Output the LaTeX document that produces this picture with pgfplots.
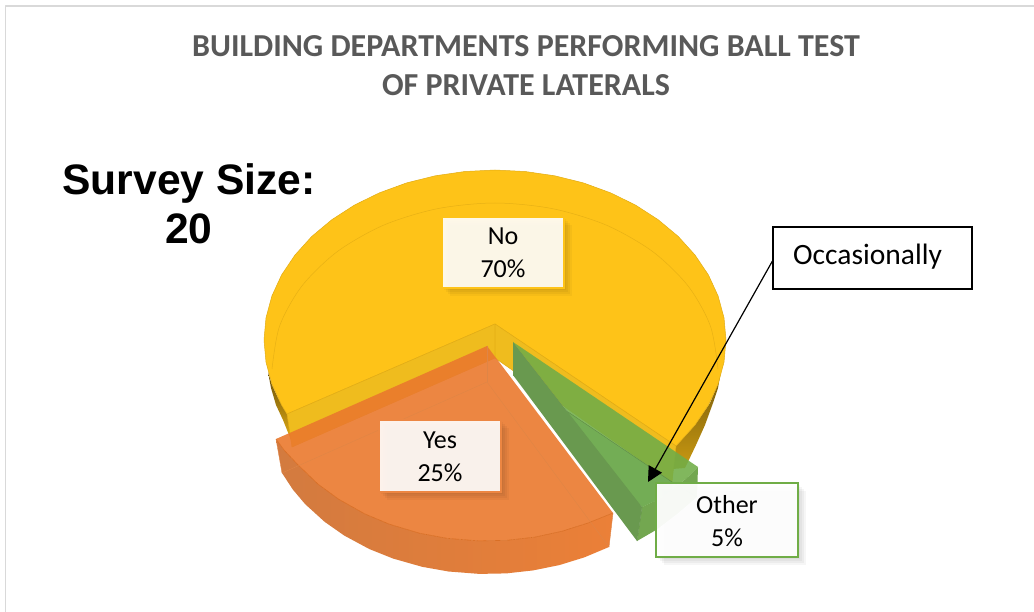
\documentclass[border=0pt]{standalone}
\usepackage{pgfplots}
\pgfplotsset{compat=1.18}
\usepackage{fontspec}
\setmainfont{Carlito}
\newfontfamily\arialfont{Liberation Sans}
\usetikzlibrary{arrows.meta}

\definecolor{noTop}{HTML}{FEC318}
\definecolor{noWall}{HTML}{EFBC1E}
\definecolor{noEdge}{HTML}{E2AC14}
\definecolor{yesFace}{HTML}{EA792D}
\definecolor{yesEdge}{HTML}{D96F25}
\definecolor{otherFace}{HTML}{70AD47}
\definecolor{otherLight}{HTML}{73AD55}
\definecolor{otherWall}{HTML}{69994F}
\definecolor{titleGrey}{HTML}{595959}
\definecolor{frameGrey}{HTML}{D9D9D9}

% Callout box with a soft drop shadow: x0, y0, x1, y1, border, fill opacity, border width
\newcommand{\calloutbox}[7]{%
  \fill[black,opacity=.035,xshift=2pt,yshift=-2pt] (axis cs:#1,#2) rectangle (axis cs:#3,#4);
  \fill[black,opacity=.04,xshift=4pt,yshift=-4pt] (axis cs:#1,#2) rectangle (axis cs:#3,#4);
  \fill[black,opacity=.04,xshift=6pt,yshift=-6pt] (axis cs:#1,#2) rectangle (axis cs:#3,#4);
  \fill[black,opacity=.035,xshift=8pt,yshift=-8pt] (axis cs:#1,#2) rectangle (axis cs:#3,#4);
  \draw[fill=white,fill opacity=#6,draw=#5,line width=#7] (axis cs:#1,#2) rectangle (axis cs:#3,#4);
}
\newcommand{\labeltext}[3]{%
  \node[anchor=base,inner sep=0pt,font=\fontsize{26}{30}\selectfont] at (axis cs:#1,#2) {#3};
}

\begin{document}
\begin{tikzpicture}
\begin{axis}[
  scale only axis, width=1034pt, height=612pt,
  xmin=0, xmax=1034, ymin=0, ymax=612, y dir=reverse,
  hide axis, no markers,
  every axis plot/.append style={line join=round},
]
% full canvas, so the page keeps its size around the hidden axis
\path (axis cs:0,0) rectangle (axis cs:1034,612);

% chart frame
\addplot[frameGrey,line width=1.6pt] coordinates {(5.5,612) (5.5,6) (1034,6)};

% "No" slice: side strips, top face, far rim, cut walls
\addplot[top color=black!55!noEdge,bottom color=noEdge,draw=none] coordinates {
  (268,372) (271,388) (276,405) (283,420) (291,440) (300,440) (287,414) (279,400) (272,385)};
\addplot[top color=black!50!noEdge,bottom color=noEdge!90!black,draw=none] coordinates {
  (722,365) (718,388) (713,403) (705,425) (696,445) (685,468) (660,470) (676,446) (695,425) (710,403) (718,384)};
\addplot[fill=noTop,draw=noEdge,line width=.5pt] coordinates {
  (495,324) (676,446) (686,435) (695,425) (708.4,405.1) (718.1,384) (724,362.2) (726,340) (724,317.8) (718.1,296)
  (708.4,274.9) (695,255) (678.3,236.5) (658.3,219.8) (635.6,205.1) (610.5,192.8) (583.4,182.9) (554.8,175.8)
  (525.1,171.5) (495,170) (464.9,171.5) (435.2,175.8) (406.6,182.9) (379.5,192.8) (354.4,205.1) (331.7,219.8)
  (311.7,236.5) (295,255) (281.6,274.9) (271.9,296) (266,317.8) (264,340) (266,362.2) (271.9,384) (281.6,405.1)
  (287,414) (495,324)};
\addplot[noEdge!80!noTop,line width=.5pt,smooth] coordinates {
  (272,369) (279.6,326) (301.9,286) (337.3,251.6) (383.5,225.2) (437.3,208.7) (495,203)
  (552.7,208.7) (606.5,225.2) (652.7,251.6) (688.1,286) (710.4,326) (718,369)};
\addplot[fill=noWall,draw=noEdge,line width=.5pt] coordinates {(495,324) (495,358) (292,447) (287,414) (495,324)};
\addplot[fill=noWall,draw=noEdge,line width=.5pt] coordinates {(495,324) (495,358) (672,482) (676,446) (495,324)};

% "Other" slice: outer wall, top face with its lighter front part, cut wall
\addplot[fill=otherFace!92!black,fill opacity=.92,draw=none] coordinates {
  (642,507) (658.3,499.4) (672,490) (686,478.7) (698,467) (697,497) (677,514) (656,530) (637,541) (642,507)};
\addplot[fill=otherFace,fill opacity=.88,draw=none] coordinates {
  (513,342) (698,467) (686,478.7) (672,490) (658.3,499.4) (642,507) (513,342)};
\addplot[fill=otherLight,draw=none] coordinates {(513,375) (672,482) (672,490) (658.3,499.4) (642,507)};
\addplot[otherWall!90!black,line width=.4pt] coordinates {(513,375) (672,482) (697,497)};
\addplot[otherWall!90!black,line width=.4pt] coordinates {(642,507) (637,541)};
\addplot[fill=otherWall,draw=none] coordinates {(513,342) (513,375) (637,541) (642,507) (513,342)};

% "Yes" slice: outer wall, top face, edges seen through it
\addplot[left color=yesFace!78!gray,right color=yesFace!95!white,draw=none] coordinates {
  (276,439) (284,450) (297.8,464.7) (318,484.1) (338.5,499.1) (364.6,513.8) (389.4,524.2) (419.5,533.2) (446.9,538.3)
  (478.9,540.9) (507.1,540.3) (535,537.1) (562.2,531.2) (588.3,522.9) (613,513)
  (609,547) (584.3,557.4) (559.3,565.1) (533.2,570.4) (506.4,573.4) (479.3,573.9) (448.5,571.5) (422.1,566.8)
  (393.2,558.6) (369.4,549.1) (344.3,535.6) (324.6,521.8) (305.1,504.1) (292.8,489.5) (282,473) (276,439)};
\addplot[fill=yesFace,fill opacity=.9,draw=none] coordinates {
  (487,346) (613,513) (588.3,522.9) (562.2,531.2) (535,537.1) (507.1,540.3) (478.9,540.9) (446.9,538.3) (419.5,533.2)
  (389.4,524.2) (364.6,513.8) (338.5,499.1) (318,484.1) (297.8,464.7) (284,450) (276,439) (487,346)};
\addplot[yesEdge,line width=.6pt] coordinates {
  (613,513) (588.3,522.9) (562.2,531.2) (535,537.1) (507.1,540.3) (478.9,540.9) (446.9,538.3) (419.5,533.2)
  (389.4,524.2) (364.6,513.8) (338.5,499.1) (318,484.1) (297.8,464.7) (284,450) (276,439)};
\addplot[yesEdge!85!white,line width=.4pt] coordinates {(282,473) (487,382) (609,547)};
\addplot[yesEdge!85!white,line width=.4pt] coordinates {(487,346) (487,382)};
\addplot[yesEdge!85!white,line width=.4pt] coordinates {(276,439) (282,473)};
\addplot[yesEdge!85!white,line width=.4pt] coordinates {(613,513) (609,547)};

% callout arrow and its box
\draw[-{Triangle[length=15pt,width=15pt]},line width=1.2pt,black]
  (axis cs:773,260) -- (axis cs:648,482);
\draw[black,line width=1.8pt,fill=white] (axis cs:773,227) rectangle (axis cs:972,289);
\node[anchor=base west,inner sep=0pt,font=\fontsize{29.5}{34}\selectfont] at (axis cs:793,265) {Occasionally};

% slice labels
\calloutbox{442}{217}{564}{288}{noTop}{.9}{1.6pt}
\calloutbox{379}{420}{501}{492}{yesFace!90!white}{.9}{1.6pt}
\calloutbox{656}{483}{798}{557}{otherFace}{.95}{2.4pt}
\labeltext{503}{245}{No}
\labeltext{503}{278}{70\%}
\labeltext{440}{448}{Yes}
\labeltext{440}{481}{25\%}
\labeltext{727}{513}{Other}
\labeltext{727}{546}{5\%}

% title
\node[anchor=base,inner sep=0pt,text=titleGrey,font=\fontsize{32}{36}\selectfont\bfseries] at (axis cs:526,57) {BUILDING DEPARTMENTS PERFORMING BALL TEST};
\node[anchor=base,inner sep=0pt,text=titleGrey,font=\fontsize{32}{36}\selectfont\bfseries] at (axis cs:526,96) {OF PRIVATE LATERALS};

% survey size note
\node[anchor=base,inner sep=0pt,font=\fontsize{42.6}{50}\selectfont\arialfont\bfseries] at (axis cs:189,195) {Survey Size:};
\node[anchor=base,inner sep=0pt,font=\fontsize{42.6}{50}\selectfont\arialfont\bfseries] at (axis cs:189,244) {20};
\end{axis}
\end{tikzpicture}
\end{document}
